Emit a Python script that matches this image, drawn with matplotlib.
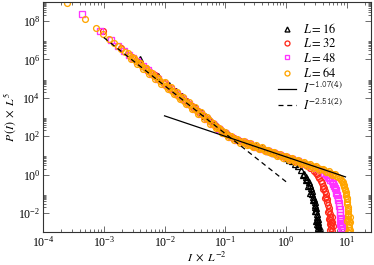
"""
 Title:         Cluster size distribution collapse
 Description:   P(I) L^5 against I L^-2 for four system sizes, log-log
"""

# Libraries
import numpy as np
import matplotlib.pyplot as plt
from matplotlib.ticker import FixedLocator, LogLocator, NullFormatter, LogFormatterMathtext

# Data (log10 values)
l16_lx = [-2.408, -2.107, -1.931, -1.806, -1.709, -1.630, -1.564, -1.505, -1.408, -1.33, -1.26, -1.20,
          -1.15, -1.10, -1.05, -1.00, -0.95, -0.90, -0.80, -0.70, -0.60, -0.50, -0.40, -0.30, -0.20,
          -0.10, 0.00, 0.05, 0.10, 0.15, 0.20, 0.25, 0.28, 0.30, 0.32, 0.33, 0.35, 0.36, 0.37, 0.39,
          0.40, 0.405, 0.42, 0.435, 0.44, 0.45, 0.46, 0.47, 0.47, 0.48, 0.48, 0.49, 0.497, 0.50, 0.505,
          0.51, 0.51, 0.515, 0.52, 0.52, 0.525, 0.53, 0.53, 0.535, 0.54, 0.54, 0.545, 0.55, 0.555, 0.56]
l16_ly = [6.03, 5.16, 4.67, 4.34, 4.07, 3.86, 3.69, 3.53, 3.28, 3.05, 2.86, 2.71,
          2.56, 2.43, 2.31, 2.20, 2.09, 2.00, 1.85, 1.72, 1.60, 1.48, 1.36, 1.24, 1.12,
          1.00, 0.86, 0.78, 0.68, 0.56, 0.42, 0.25, 0.00, 0.04, -0.30, -0.12, -0.25, -0.60, -0.40, -0.55,
          -0.95, -0.70, -0.85, -1.00, -1.35, -1.15, -1.30, -1.45, -1.70, -1.60, -1.90, -1.75, -1.90, -2.40, -2.05,
          -2.20, -2.60, -2.35, -2.50, -3.00, -2.65, -2.80, -2.30, -2.95, -3.10, -2.70, -3.25, -3.40, -2.90, -3.20]

l32_lx = [-3.010, -2.709, -2.533, -2.408, -2.311, -2.232, -2.165, -2.107, -2.010, -1.93, -1.85, -1.75,
          -1.65, -1.55, -1.45, -1.35, -1.25, -1.15, -1.05, -0.95, -0.85, -0.75, -0.65, -0.55, -0.45,
          -0.35, -0.25, -0.15, -0.05, 0.05, 0.15, 0.25, 0.32, 0.40, 0.46, 0.49, 0.51, 0.53, 0.55, 0.57,
          0.59, 0.60, 0.605, 0.62, 0.635, 0.64, 0.65, 0.66, 0.67, 0.68, 0.69, 0.69, 0.70, 0.70, 0.71,
          0.715, 0.72, 0.72, 0.727, 0.73, 0.735, 0.74, 0.745, 0.75, 0.75, 0.755, 0.76, 0.76, 0.765, 0.77]
l32_ly = [7.49, 6.62, 6.15, 5.82, 5.56, 5.35, 5.18, 5.03, 4.77, 4.56, 4.36, 4.10,
          3.84, 3.58, 3.32, 3.06, 2.79, 2.51, 2.26, 2.05, 1.88, 1.74, 1.62, 1.51, 1.40,
          1.29, 1.18, 1.07, 0.96, 0.85, 0.73, 0.60, 0.50, 0.35, 0.20, 0.10, 0.02, -0.08, -0.20, -0.32,
          -0.45, -0.75, -0.58, -0.72, -0.86, -1.20, -1.00, -1.15, -1.30, -1.45, -1.60, -1.95, -1.75, -2.30, -1.90,
          -2.05, -2.20, -2.60, -2.35, -2.90, -2.50, -2.65, -2.80, -2.95, -2.20, -3.10, -3.25, -2.50, -3.40, -2.70]

l48_lx = [-3.362, -3.061, -2.885, -2.760, -2.663, -2.584, -2.517, -2.459, -2.362, -2.28, -2.20, -2.10,
          -2.00, -1.90, -1.80, -1.70, -1.60, -1.50, -1.40, -1.30, -1.20, -1.10, -1.00, -0.90, -0.80,
          -0.70, -0.60, -0.50, -0.40, -0.30, -0.20, -0.10, 0.00, 0.10, 0.20, 0.30, 0.40, 0.50, 0.56,
          0.62, 0.65, 0.67, 0.69, 0.71, 0.73, 0.75, 0.765, 0.78, 0.795, 0.81, 0.82, 0.83, 0.84, 0.85,
          0.86, 0.87, 0.878, 0.88, 0.885, 0.89, 0.895, 0.895, 0.90, 0.90, 0.905, 0.908, 0.91, 0.913, 0.915,
          0.918, 0.92, 0.922, 0.925, 0.93]
l48_ly = [8.37, 7.51, 7.03, 6.70, 6.44, 6.24, 6.06, 5.91, 5.66, 5.45, 5.25, 4.99,
          4.73, 4.47, 4.21, 3.95, 3.69, 3.43, 3.17, 2.91, 2.64, 2.37, 2.14, 1.95, 1.81,
          1.68, 1.57, 1.46, 1.35, 1.24, 1.13, 1.02, 0.91, 0.80, 0.69, 0.57, 0.45, 0.32, 0.22,
          0.10, 0.03, -0.04, -0.12, -0.20, -0.28, -0.35, -0.42, -0.50, -0.61, -0.72, -0.83, -0.95, -1.07, -1.20,
          -1.35, -1.50, -1.65, -2.30, -1.80, -1.95, -2.10, -2.60, -2.25, -3.10, -2.40, -2.55, -2.70, -2.85, -3.00,
          -3.15, -3.30, -3.45, -2.55, -2.90]

l64_lx = [-3.612, -3.311, -3.135, -3.010, -2.913, -2.834, -2.767, -2.709, -2.658,
          -2.60, -2.55, -2.50, -2.45, -2.40, -2.35, -2.30, -2.25, -2.20, -2.15, -2.10, -2.05,
          -2.00, -1.95, -1.90, -1.85, -1.80, -1.75, -1.70, -1.65, -1.60, -1.55, -1.50, -1.45,
          -1.40, -1.35, -1.30, -1.25, -1.20, -1.15, -1.10, -1.05, -1.00, -0.95, -0.90, -0.85,
          -0.80, -0.75, -0.70, -0.65, -0.60, -0.55, -0.50, -0.45, -0.40, -0.35, -0.30, -0.25,
          -0.20, -0.15, -0.10, -0.05, 0.00, 0.05, 0.10, 0.15, 0.20, 0.25, 0.30, 0.35,
          0.40, 0.45, 0.50, 0.55, 0.60, 0.65, 0.70, 0.75, 0.80,
          -2.575, -2.525, -2.475, -2.425, -2.375, -2.325, -2.275, -2.225, -2.175, -2.125, -2.075, -2.025,
          -1.975, -1.925, -1.875, -1.825, -1.775, -1.725, -1.675, -1.625, -1.575, -1.525, -1.475, -1.425,
          -1.375, -1.325, -1.275, -1.225, -1.175, -1.125, -1.075, -1.025, -0.975, -0.925, -0.875, -0.825,
          -0.775, -0.725, -0.675, -0.625, -0.575, -0.525, -0.475, -0.425, -0.375, -0.325, -0.275, -0.225,
          -0.175, -0.125, -0.075, -0.025, 0.025, 0.075, 0.125, 0.175, 0.225, 0.275, 0.325, 0.375,
          0.425, 0.475, 0.525, 0.575, 0.625, 0.675, 0.725, 0.775,
          0.83, 0.86, 0.89, 0.91, 0.92, 0.93, 0.94, 0.95, 0.96, 0.97, 0.975, 0.98, 0.985, 0.99, 0.995,
          1.00, 1.005, 1.01, 1.01, 1.013, 1.015, 1.018, 1.02, 1.02, 1.023, 1.025, 1.028, 1.03, 1.033,
          1.035, 1.038, 1.04, 1.042, 1.045, 1.05, 1.05, 1.055]
l64_ly = [8.95, 8.11, 7.65, 7.33, 7.05, 6.86, 6.68, 6.53, 6.40,
          6.35, 6.02, 6.09, 5.76, 5.83, 5.50, 5.57, 5.24, 5.31, 4.99, 5.06, 4.73,
          4.80, 4.47, 4.54, 4.21, 4.28, 3.95, 4.02, 3.69, 3.76, 3.43, 3.50, 3.18,
          3.25, 2.92, 2.99, 2.65, 2.69, 2.41, 2.42, 2.17, 2.20, 1.96, 2.01, 1.80,
          1.87, 1.66, 1.74, 1.54, 1.63, 1.43, 1.52, 1.32, 1.41, 1.21, 1.30, 1.10,
          1.19, 0.99, 1.08, 0.88, 0.97, 0.77, 0.86, 0.66, 0.75, 0.55, 0.64, 0.44,
          0.53, 0.33, 0.42, 0.22, 0.30, 0.12, 0.17, 0.00, 0.02,
          6.19, 6.06, 5.93, 5.80, 5.67, 5.54, 5.41, 5.28, 5.15, 5.03, 4.90, 4.77,
          4.64, 4.51, 4.38, 4.25, 4.12, 3.99, 3.86, 3.73, 3.60, 3.47, 3.34, 3.22,
          3.09, 2.96, 2.82, 2.69, 2.55, 2.42, 2.30, 2.18, 2.08, 1.99, 1.90, 1.84,
          1.77, 1.70, 1.64, 1.59, 1.53, 1.48, 1.42, 1.37, 1.31, 1.26, 1.20, 1.15,
          1.09, 1.04, 0.98, 0.93, 0.87, 0.82, 0.76, 0.71, 0.65, 0.60, 0.54, 0.49,
          0.43, 0.38, 0.32, 0.27, 0.21, 0.15, 0.09, 0.02,
          -0.07, -0.12, -0.20, -0.28, -0.34, -0.40, -0.47, -0.55, -0.65, -0.75, -0.83, -0.90, -1.00, -1.10, -1.20,
          -1.30, -1.42, -1.55, -2.40, -1.68, -1.80, -1.92, -2.05, -3.00, -2.18, -2.30, -2.45, -2.60, -2.75,
          -2.90, -3.05, -3.20, -3.35, -2.20, -2.50, -2.90, -3.20]

# Fitted power laws, end points
fit1_x = [1.0e-2, 9.5]
fit1_y = [1150.0, 0.75]
fit2_x = [1.0e-3, 1.0]
fit2_y = [1.4e7, 0.42]

series = [
    ("$L = 16$", l16_lx, l16_ly, "^", "black"),
    ("$L = 32$", l32_lx, l32_ly, "o", "#ff2a1a"),
    ("$L = 48$", l48_lx, l48_ly, "s", "#ff33ff"),
    ("$L = 64$", l64_lx, l64_ly, "o", "#ffa500"),
]

# Style
plt.rcParams["font.family"] = ["Liberation Serif", "DejaVu Serif"]
plt.rcParams["mathtext.fontset"] = "stix"

fig = plt.figure(figsize=(3.74, 2.65), dpi=100)
ax = fig.add_axes([0.115, 0.1245, 0.877, 0.868])

for label, lx, ly, marker, colour in series:
    ax.plot(10**np.array(lx), 10**np.array(ly), ls="none", marker=marker, mfc="none",
            mec=colour, ms=4.2, mew=0.95, label=label)

ax.plot(fit1_x, fit1_y, color="black", lw=0.9, label=r"$I^{\mathtt{-1.07(4)}}$", zorder=5)
ax.plot(fit2_x, fit2_y, color="black", lw=0.9, ls=(0, (4, 3)), label=r"$I^{\mathtt{-2.51(2)}}$", zorder=5)

# Axes
ax.set_xscale("log")
ax.set_yscale("log")
ax.set_xlim(1e-4, 25)
ax.set_ylim(1e-3, 1e9)

ax.xaxis.set_major_locator(LogLocator(base=10, numticks=20))
ax.xaxis.set_minor_locator(LogLocator(base=10, subs=np.arange(2, 10), numticks=20))
ax.xaxis.set_minor_formatter(NullFormatter())
ax.yaxis.set_major_locator(FixedLocator([10.0**n for n in range(-2, 9, 2)]))
ax.yaxis.set_major_formatter(LogFormatterMathtext())
ax.yaxis.set_minor_locator(FixedLocator([k * 10.0**n for n in range(-4, 9, 2) for k in range(2, 10)]))
ax.yaxis.set_minor_formatter(NullFormatter())

ax.tick_params(which="both", direction="in", top=True, right=True, width=0.6, color="#555555")
ax.tick_params(which="major", length=4, labelsize=8.5, pad=2)
ax.tick_params(which="minor", length=2)
for spine in ax.spines.values():
    spine.set_linewidth(0.8)
    spine.set_color("#333333")

ax.set_xlabel(r"$I\ \times\ L^{-2}$", fontsize=8.5, labelpad=0)
ax.set_ylabel(r"$P\,(I)\ \times\ L^{5}$", fontsize=8.5, labelpad=0)

ax.legend(loc="upper left", bbox_to_anchor=(0.69, 0.95), frameon=False, fontsize=9,
          handlelength=1.4, handletextpad=0.6, labelspacing=0.1, markerscale=0.85, borderpad=0.2)

plt.savefig("out.png", dpi=100)
